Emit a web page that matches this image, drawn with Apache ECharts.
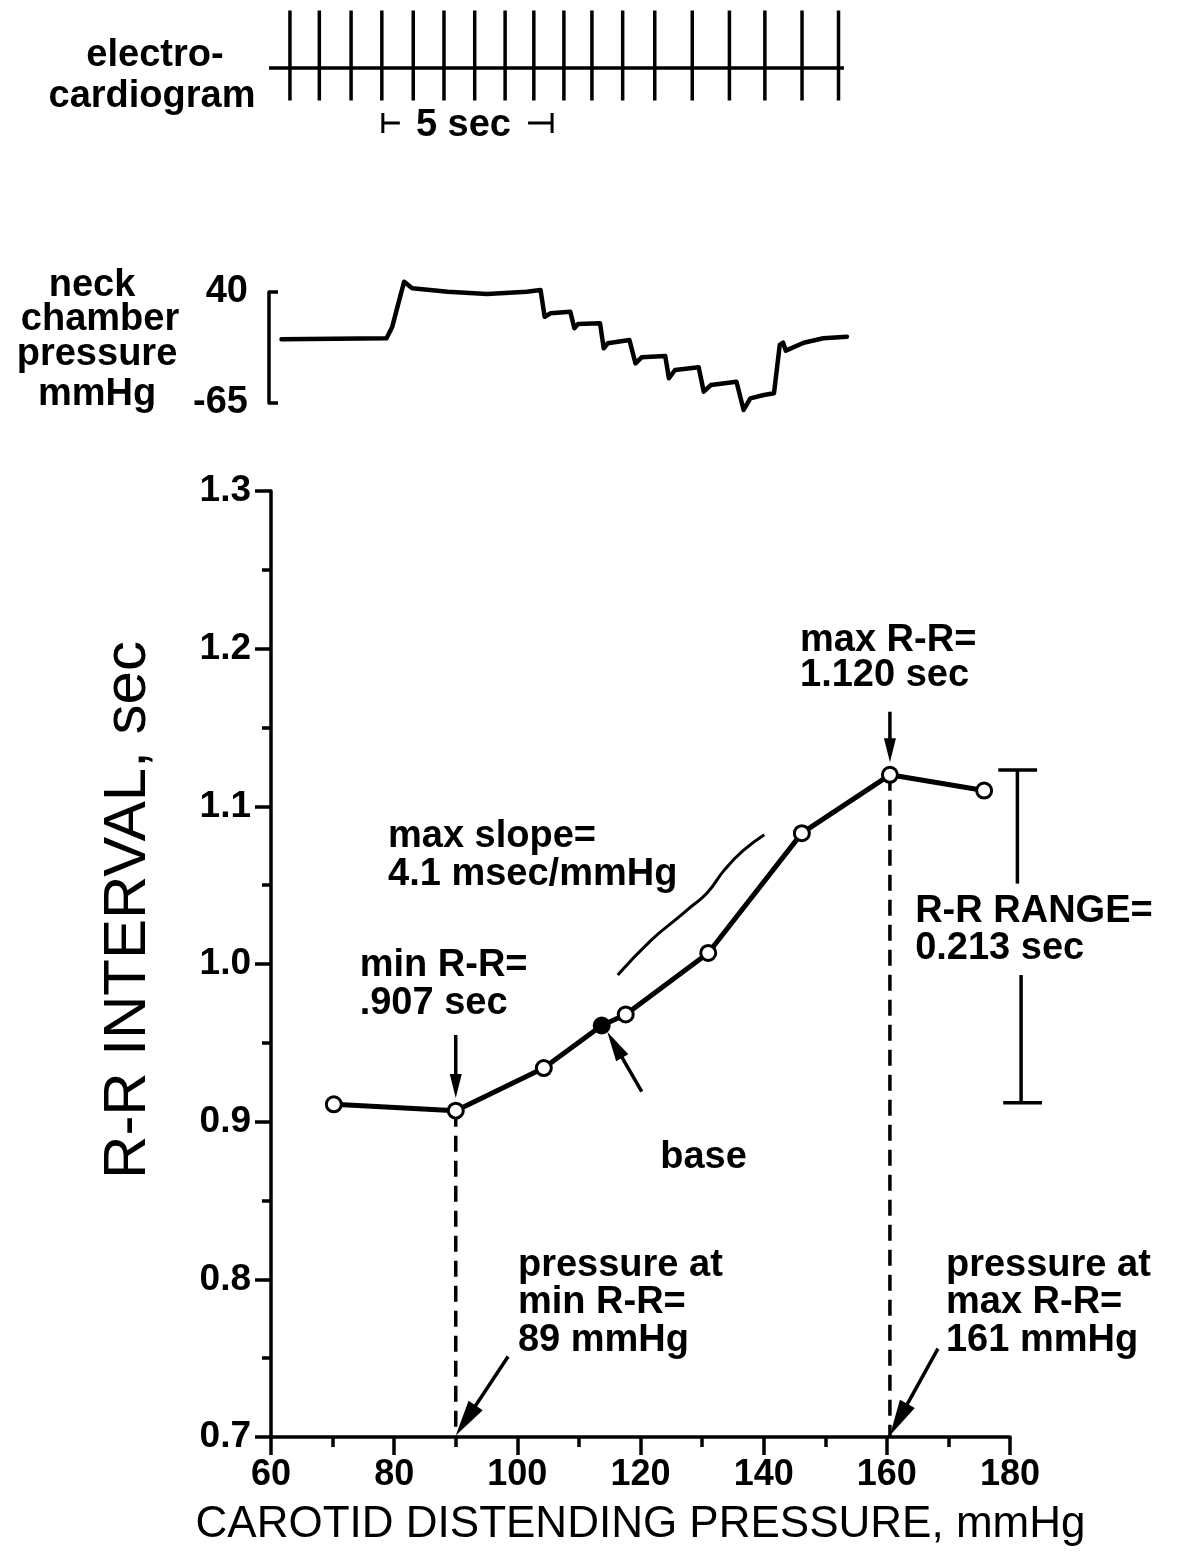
<!DOCTYPE html>
<html><head><meta charset="utf-8">
<script src="https://cdn.jsdelivr.net/npm/echarts@6/dist/echarts.min.js"></script>
<style>html,body{margin:0;padding:0;background:#fff}#c{width:1184px;height:1553px}</style>
</head><body><div id="c"></div>
<script>
// ---------- main chart: R-R interval vs carotid distending pressure ----------
const pressureMmHg = [70.2, 90, 104.3, 113.7, 117.6, 131.0, 146.2, 160.5, 175.8];
const rrIntervalSec = [0.911, 0.907, 0.934, 0.961, 0.968, 1.007, 1.083, 1.120, 1.110];
const baseIndex = 3;
const xTickValues = [60, 80, 100, 120, 140, 160, 180];
const yTickValues = [0.7, 0.8, 0.9, 1.0, 1.1, 1.2, 1.3];

// "max slope" hand-drawn curve
const slopeCurveX = [116.3, 121.7, 126.3, 128.1, 130.8, 133.7, 136.7, 140.1];
const slopeCurveY = [0.993, 1.015, 1.030, 1.036, 1.045, 1.060, 1.072, 1.082];

// dashed drop lines [x1, y1, x2, y2]
const dropLines = [[90, 0.907, 90, 0.7], [160.5, 1.120, 160.5, 0.7]];

// arrows [xFrom, yFrom, xTo(tip), yTo(tip)]
const arrows = [
  [90, 0.955, 90, 0.915],
  [160.5, 1.160, 160.5, 1.128],
  [120.2, 0.919, 114.6, 0.957],
  [98.5, 0.751, 90, 0.701],
  [168.3, 0.756, 160.5, 0.701]
];
const arrowHeads = [[24, 12], [24, 12], [30, 14], [36, 17], [36, 17]];

// R-R range bracket segments [x1, y1, x2, y2]
const rangeBracket = [
  [178.1, 1.123, 184.4, 1.123],
  [181.2, 1.123, 181.2, 1.051],
  [181.8, 0.993, 181.8, 0.912],
  [178.9, 0.912, 185.2, 0.912]
];

// annotation text lines (left anchor, vertical middle)
const noteText = ['max R-R=', '1.120 sec', 'max slope=', '4.1 msec/mmHg', 'min R-R=', '.907 sec',
  'R-R RANGE=', '0.213 sec', 'base', 'pressure at', 'min R-R=', '89 mmHg', 'pressure at', 'max R-R=', '161 mmHg'];
const noteX = [145.9, 145.9, 79.0, 79.0, 74.4, 74.4, 164.6, 164.6, 123.2, 100.1, 100.1, 100.1, 169.6, 169.6, 169.6];
const noteY = [1.205, 1.183, 1.081, 1.057, 0.999, 0.975, 1.033, 1.010, 0.877, 0.8085, 0.785, 0.7615, 0.8085, 0.785, 0.7615];

// ---------- electrocardiogram (time in sec) ----------
const ecgBeatTimes = [0.62, 1.49, 2.43, 3.34, 4.27, 5.18, 6.09, 6.99, 7.84, 8.73, 9.56, 10.47, 11.42, 12.53, 13.63, 14.68, 15.78, 16.86];
const ecgSpikeTop = 1.15;
const ecgSpikeBottom = -0.65;
const ecgStart = 0, ecgEnd = 17.02;
const scaleBar = [3.37, 8.38]; // 5 sec

// ---------- neck chamber pressure trace ----------
const neckTime = [0.37, 3.48, 3.65, 3.83, 4.00, 4.24, 5.29, 6.46, 7.63, 8.04, 8.16, 8.33, 8.92, 9.04, 9.15, 9.80,
  9.91, 10.03, 10.67, 10.85, 11.03, 11.73, 11.84, 12.02, 12.72, 12.87, 13.08, 13.84, 14.05, 14.25, 14.65, 14.95,
  15.12, 15.22, 15.30, 15.83, 16.41, 17.11];
const neckPressure = [-4.7, -3.8, 7.2, 29.3, 49.7, 43.5, 40.3, 38.1, 40.3, 41.9, 16.6, 19.8, 21.4, 5.7, 9.7, 10.4,
  -13.3, -8.5, -5.4, -27.5, -21.8, -20.5, -41.6, -33.8, -31.2, -54.3, -48.0, -44.9, -71.6, -60.6, -57.4, -55.8,
  -10.1, -8.0, -15.5, -8.0, -3.8, -2.3];
const neckScale = [-65, 40];

// ---------- build ----------
const FONT = '"Liberation Sans", Arial, Helvetica, sans-serif';
const ecgPoints = [[ecgStart, 0]];
ecgBeatTimes.forEach(t => { ecgPoints.push([t, 0], [t, ecgSpikeTop], [t, ecgSpikeBottom], [t, 0]); });
ecgPoints.push([ecgEnd, 0]);

const mainData = pressureMmHg.map((x, i) => {
  const d = { value: [x, rrIntervalSec[i]] };
  if (i === baseIndex) d.itemStyle = { color: '#000', borderColor: '#000' };
  return d;
});

function segItem(width, dash) {
  return function (params, api) {
    const p1 = api.coord([api.value(0), api.value(1)]);
    const p2 = api.coord([api.value(2), api.value(3)]);
    return { type: 'line', shape: { x1: p1[0], y1: p1[1], x2: p2[0], y2: p2[1] },
      style: { stroke: '#000', lineWidth: width, lineDash: dash || null, lineCap: 'butt' } };
  };
}

function arrowItem(params, api) {
  const p1 = api.coord([api.value(0), api.value(1)]);
  const p2 = api.coord([api.value(2), api.value(3)]);
  const hl = arrowHeads[params.dataIndex][0], hw = arrowHeads[params.dataIndex][1];
  const dx = p2[0] - p1[0], dy = p2[1] - p1[1];
  const L = Math.hypot(dx, dy), ux = dx / L, uy = dy / L;
  const bx = p2[0] - ux * hl, by = p2[1] - uy * hl;
  const nx = -uy, ny = ux;
  return { type: 'group', children: [
    { type: 'line', shape: { x1: p1[0], y1: p1[1], x2: bx + ux * 3, y2: by + uy * 3 }, style: { stroke: '#000', lineWidth: 3.5 } },
    { type: 'polygon', shape: { points: [[p2[0], p2[1]], [bx + nx * hw / 2, by + ny * hw / 2], [bx - nx * hw / 2, by - ny * hw / 2]] }, style: { fill: '#000' } }
  ] };
}

function noteItem(params, api) {
  const p = api.coord([api.value(0), api.value(1)]);
  return { type: 'text', x: p[0], y: p[1],
    style: { text: noteText[params.dataIndex], fontFamily: FONT, fontSize: 38, fontWeight: 'bold', fill: '#000', align: 'left', verticalAlign: 'middle' } };
}

function scaleBarItem(params, api) {
  const yv = -1.1;
  const a = api.coord([api.value(0), yv]);
  const b = api.coord([api.value(1), yv]);
  const cy = a[1];
  const s = { stroke: '#000', lineWidth: 3 };
  return { type: 'group', children: [
    { type: 'line', shape: { x1: a[0], y1: cy - 10, x2: a[0], y2: cy + 10 }, style: s },
    { type: 'line', shape: { x1: a[0], y1: cy, x2: a[0] + 17, y2: cy }, style: s },
    { type: 'line', shape: { x1: b[0] - 24, y1: cy, x2: b[0], y2: cy }, style: s },
    { type: 'line', shape: { x1: b[0], y1: cy - 10, x2: b[0], y2: cy + 10 }, style: s },
    { type: 'text', x: (a[0] + b[0]) / 2 - 4, y: cy + 3, style: { text: '5 sec', fontFamily: FONT, fontSize: 38, fontWeight: 'bold', fill: '#000', align: 'center', verticalAlign: 'middle' } }
  ] };
}

const blackLine = { color: '#000', width: 3.5 };
const option = {
  animation: false,
  backgroundColor: '#fff',
  grid: [
    { left: 271, right: 174, top: 491, bottom: 116 },
    { left: 269, width: 581, top: 8, height: 100 },
    { left: 269, width: 581, top: 292, height: 111 }
  ],
  xAxis: [
    { gridIndex: 0, type: 'value', min: xTickValues[0], max: xTickValues[xTickValues.length - 1], interval: xTickValues[1] - xTickValues[0],
      axisLine: { show: true, lineStyle: blackLine },
      axisTick: { show: true, length: 18, lineStyle: { color: '#000', width: 3.5 } },
      minorTick: { show: true, splitNumber: 2, length: 10, lineStyle: { color: '#000', width: 3.5 } },
      splitLine: { show: false },
      axisLabel: { color: '#000', fontFamily: FONT, fontSize: 36, fontWeight: 'bold', margin: 20 },
      name: 'CAROTID DISTENDING PRESSURE, mmHg', nameLocation: 'middle', nameGap: 66,
      nameTextStyle: { color: '#000', fontFamily: FONT, fontSize: 44, fontWeight: 'normal' } },
    { gridIndex: 1, type: 'value', min: 0, max: 17.2, show: false },
    { gridIndex: 2, type: 'value', min: 0, max: 17.2, show: false }
  ],
  yAxis: [
    { gridIndex: 0, type: 'value', min: yTickValues[0], max: yTickValues[yTickValues.length - 1], interval: 0.1,
      axisLine: { show: true, lineStyle: blackLine },
      axisTick: { show: true, length: 16, lineStyle: { color: '#000', width: 3.5 } },
      minorTick: { show: true, splitNumber: 2, length: 9, lineStyle: { color: '#000', width: 3.5 } },
      splitLine: { show: false },
      axisLabel: { color: '#000', fontFamily: FONT, fontSize: 37, fontWeight: 'bold', margin: 20, formatter: v => v.toFixed(1) } },
    { gridIndex: 1, type: 'value', min: -0.8, max: 1.2, show: false },
    { gridIndex: 2, type: 'value', min: neckScale[0], max: neckScale[1], offset: 5,
      axisLine: { show: true, lineStyle: { color: '#000', width: 3.5 } },
      axisTick: { show: true, inside: true, length: 9, customValues: neckScale, lineStyle: { color: '#000', width: 3.5 } },
      splitLine: { show: false },
      axisLabel: { color: '#000', fontFamily: FONT, fontSize: 38, fontWeight: 'bold', margin: 16, customValues: neckScale } }
  ],
  graphic: [
    { type: 'text', x: 155, y: 56, style: { text: 'electro-', fontFamily: FONT, fontSize: 38, fontWeight: 'bold', fill: '#000', align: 'center', verticalAlign: 'middle' } },
    { type: 'text', x: 152, y: 97, style: { text: 'cardiogram', fontFamily: FONT, fontSize: 38, fontWeight: 'bold', fill: '#000', align: 'center', verticalAlign: 'middle' } },
    { type: 'text', x: 92, y: 286, style: { text: 'neck', fontFamily: FONT, fontSize: 38, fontWeight: 'bold', fill: '#000', align: 'center', verticalAlign: 'middle' } },
    { type: 'text', x: 100, y: 320, style: { text: 'chamber', fontFamily: FONT, fontSize: 38, fontWeight: 'bold', fill: '#000', align: 'center', verticalAlign: 'middle' } },
    { type: 'text', x: 97, y: 355, style: { text: 'pressure', fontFamily: FONT, fontSize: 38, fontWeight: 'bold', fill: '#000', align: 'center', verticalAlign: 'middle' } },
    { type: 'text', x: 97, y: 395, style: { text: 'mmHg', fontFamily: FONT, fontSize: 38, fontWeight: 'bold', fill: '#000', align: 'center', verticalAlign: 'middle' } },
    { type: 'text', x: 128, y: 910, rotation: Math.PI / 2, style: { text: 'R-R INTERVAL, sec', fontFamily: FONT, fontSize: 60, fontWeight: 'normal', fill: '#000', align: 'center', verticalAlign: 'middle' } }
  ],
  series: [
    { type: 'custom', xAxisIndex: 0, yAxisIndex: 0, renderItem: segItem(3.5, [16, 9]), data: dropLines, z: 2, silent: true },
    { type: 'custom', xAxisIndex: 0, yAxisIndex: 0, renderItem: segItem(3.5), data: rangeBracket, z: 2, silent: true },
    { type: 'custom', xAxisIndex: 0, yAxisIndex: 0, renderItem: arrowItem, data: arrows, z: 4, silent: true },
    { type: 'custom', xAxisIndex: 0, yAxisIndex: 0, renderItem: noteItem, data: noteX.map((x, i) => [x, noteY[i]]), z: 4, silent: true },
    { type: 'line', xAxisIndex: 0, yAxisIndex: 0, data: slopeCurveX.map((x, i) => [x, slopeCurveY[i]]), smooth: true, symbol: 'none',
      lineStyle: { color: '#000', width: 3 }, z: 3, silent: true },
    { type: 'line', xAxisIndex: 0, yAxisIndex: 0, data: mainData, symbol: 'circle', symbolSize: 15,
      itemStyle: { color: '#fff', borderColor: '#000', borderWidth: 3 },
      lineStyle: { color: '#000', width: 5 }, z: 5, silent: true },
    { type: 'line', xAxisIndex: 1, yAxisIndex: 1, data: ecgPoints, symbol: 'none', clip: false,
      lineStyle: { color: '#000', width: 3.5 }, silent: true },
    { type: 'custom', xAxisIndex: 1, yAxisIndex: 1, renderItem: scaleBarItem, data: [scaleBar], silent: true },
    { type: 'line', xAxisIndex: 2, yAxisIndex: 2, data: neckTime.map((t, i) => [t, neckPressure[i]]), symbol: 'none', clip: false,
      lineStyle: { color: '#000', width: 4.5, join: 'round', cap: 'round' }, silent: true }
  ]
};
const chart = echarts.init(document.getElementById('c'), null, { renderer: 'canvas', width: 1184, height: 1553 });
chart.setOption(option);
</script>
</body></html>
